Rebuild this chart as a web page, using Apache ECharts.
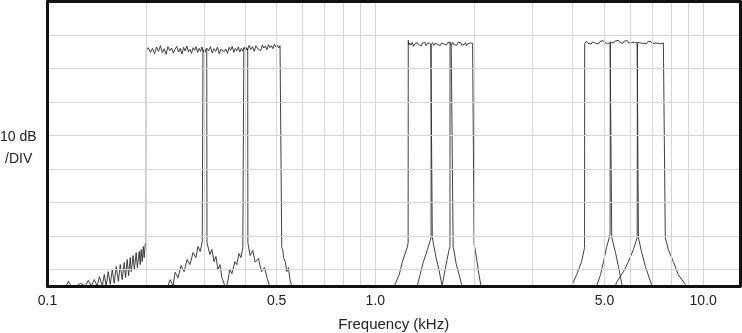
<!DOCTYPE html>
<html>
<head>
<meta charset="utf-8">
<script src="https://cdn.jsdelivr.net/npm/echarts@6/dist/echarts.min.js"></script>
<style>
html,body{margin:0;padding:0;background:#fff;}
#chart{width:742px;height:333px;}
</style>
</head>
<body>
<div id="chart"></div>
<script>
// Frequencies in kHz, levels in dB below the top of the screen (10 dB / division)
const xTickValues = [0.1, 0.5, 1, 5, 10];
const gridFreqs = [0.2, 0.3, 0.4, 0.5, 0.6, 0.7, 0.8, 0.9, 1, 2, 3, 4, 5, 6, 7, 8, 9, 10];
const xRange = [0.1, 12.95];
const yRange = [0, 85];
const yLabelText = ['10 dB', '/DIV'];
const xTitle = 'Frequency (kHz)';

// Band A: 0.2 - 0.3 kHz
const bandA = [
  [0.1095,85],[0.1140,85],[0.1158,83.6],[0.1180,85],[0.1225,85],[0.1260,84.2],[0.1305,85],[0.1332,83.3],
  [0.1360,85],[0.1389,83.1],[0.1418,85],[0.1440,82.2],[0.1470,85],[0.1490,81.6],[0.1510,85],[0.1532,80.7],
  [0.1554,84.5],[0.1576,80.1],[0.1598,84.2],[0.1620,79.2],[0.1645,83.6],[0.1667,78.6],[0.1690,83.1],
  [0.1714,78.0],[0.1730,82.5],[0.1750,77.1],[0.1768,81.9],[0.1788,76.5],[0.1800,80.7],[0.1825,75.9],
  [0.1840,80.1],[0.1864,75.0],[0.1880,79.5],[0.1904,74.7],[0.1918,78.6],[0.1930,74.1],[0.1945,77.7],
  [0.1960,73.2],[0.1972,76.5],[0.1986,72.6],[0.2000,72.0],
  [0.2002,14.6],[0.203,13.8],[0.206,15.2],[0.209,14.0],[0.212,15.6],[0.215,13.6],[0.218,14.9],[0.221,13.2],
  [0.224,15.3],[0.227,14.1],[0.230,15.8],[0.233,13.5],[0.236,14.7],[0.239,13.9],[0.242,15.4],[0.245,14.2],
  [0.248,13.4],[0.251,15.1],[0.254,14.0],[0.257,15.7],[0.260,13.7],[0.263,14.8],[0.266,13.3],[0.269,15.0],
  [0.272,14.3],[0.275,15.5],[0.278,13.8],[0.281,14.6],[0.284,13.5],[0.287,15.2],[0.290,14.0],[0.293,14.9],
  [0.296,13.6],[0.299,15.1],[0.302,14.2],[0.306,14.8],
  [0.3065,72.0],[0.3128,75.6],[0.3173,74.1],[0.3220,77.7],[0.3264,76.2],[0.3310,80.1],[0.3360,78.6],
  [0.3403,82.5],[0.3476,85]
];
// Band B: 0.3 - 0.4 kHz
const bandB = [
  [0.2330,85],[0.2366,83.1],[0.2416,85],[0.2450,80.9],[0.2502,82.5],[0.2555,78.9],[0.2610,80.7],
  [0.2665,77.1],[0.2720,78.6],[0.2779,75.0],[0.2837,76.5],[0.2877,73.2],[0.2924,74.7],[0.2965,71.7],
  [0.2979,71.4],
  [0.2980,14.4],[0.302,15.3],[0.306,13.9],[0.310,14.8],[0.314,13.5],[0.318,15.4],[0.322,14.1],[0.326,14.9],
  [0.330,13.6],[0.334,15.6],[0.338,14.3],[0.342,13.8],[0.346,15.0],[0.350,14.2],[0.354,15.5],[0.358,13.7],
  [0.362,14.6],[0.366,13.4],[0.370,15.2],[0.374,14.0],[0.378,14.7],[0.382,13.6],[0.386,15.1],[0.390,14.0],
  [0.394,14.8],[0.398,13.7],[0.402,14.5],[0.408,14.1],
  [0.4085,72.0],[0.4093,72.6],[0.4150,75.9],[0.4227,74.4],[0.4300,77.9],[0.4400,76.8],[0.4490,80.7],
  [0.4590,79.5],[0.4690,83.1],[0.4762,85]
];
// Band C: 0.4 - 0.52 kHz
const bandC = [
  [0.3524,85],[0.3600,80.1],[0.3651,81.3],[0.3730,77.7],[0.3780,78.6],[0.3836,75.3],[0.3890,76.5],
  [0.3943,73.5],[0.3968,73.0],
  [0.3970,14.2],[0.402,13.4],[0.407,14.6],[0.412,13.1],[0.417,14.3],[0.422,13.5],[0.427,14.9],[0.432,13.2],
  [0.437,14.0],[0.442,13.6],[0.447,14.7],[0.452,13.0],[0.457,13.9],[0.462,13.3],[0.467,14.4],[0.472,12.9],
  [0.477,13.8],[0.482,13.2],[0.487,14.1],[0.492,12.8],[0.497,13.6],[0.502,13.0],[0.507,13.9],[0.512,13.2],
  [0.518,13.6],
  [0.5182,73.5],[0.5216,74.1],[0.5250,76.5],[0.5310,77.7],[0.5370,80.7],[0.5430,79.5],[0.5490,83.1],[0.5554,85]
];
// Band D: 1.26 - 1.49 kHz
const bandD = [
  [1.142,85],[1.183,81.6],[1.210,77.6],[1.240,74.6],[1.254,73.1],[1.259,72.0],
  [1.260,11.6],[1.266,13.0],[1.272,12.4],[1.284,13.0],[1.296,12.2],[1.308,13.4],[1.320,12.6],[1.332,13.1],
  [1.344,12.3],[1.356,12.9],[1.368,12.5],[1.380,13.3],[1.392,12.4],[1.404,12.8],[1.416,12.2],[1.428,13.2],
  [1.440,12.6],[1.452,12.9],[1.464,12.4],[1.476,13.0],[1.491,12.7],
  [1.492,70.5],[1.505,72.6],[1.532,76.5],[1.565,80.4],[1.598,85]
];
// Band E: 1.48 - 1.73 kHz
const bandE = [
  [1.342,85],[1.370,81.6],[1.399,78.0],[1.439,74.4],[1.470,71.4],[1.479,70.5],
  [1.480,12.9],[1.494,12.3],[1.508,13.1],[1.522,12.5],[1.536,12.0],[1.550,12.8],[1.564,12.3],[1.578,13.2],
  [1.592,12.4],[1.606,12.0],[1.620,12.7],[1.634,12.2],[1.648,13.0],[1.662,12.3],[1.676,12.8],[1.690,12.1],
  [1.704,12.9],[1.726,12.5],
  [1.727,73.5],[1.739,74.6],[1.763,78.3],[1.800,81.6],[1.838,85]
];
// Band F: 1.69 - 2.0 kHz
const bandF = [
  [1.598,85],[1.632,80.1],[1.655,77.1],[1.679,74.1],[1.689,73.2],
  [1.690,12.4],[1.706,13.0],[1.722,12.2],[1.738,12.9],[1.754,12.4],[1.770,13.1],[1.786,12.3],[1.802,12.8],
  [1.818,12.2],[1.834,13.0],[1.850,12.5],[1.866,12.9],[1.882,12.3],[1.898,13.2],[1.914,12.6],[1.930,13.0],
  [1.946,12.4],[1.962,12.9],[1.980,12.5],[2.000,12.8],
  [2.001,72.6],[2.014,73.8],[2.042,77.7],[2.071,81.6],[2.100,85]
];
// Band G: 4.35 - 5.26 kHz
const bandG = [
  [3.970,85],[4.111,81.6],[4.258,77.7],[4.347,73.5],
  [4.350,12.6],[4.40,11.9],[4.45,12.5],[4.50,12.0],[4.55,12.7],[4.60,12.1],[4.65,11.8],[4.70,12.5],
  [4.75,12.0],[4.80,12.6],[4.85,11.9],[4.90,12.4],[4.95,11.7],[5.00,12.3],[5.05,11.9],[5.10,12.5],
  [5.15,12.0],[5.20,12.4],[5.26,12.0],
  [5.262,70.5],[5.401,75.0],[5.515,79.2],[5.633,83.9],[5.66,85]
];
// Band H: 5.21 - 6.34 kHz
const bandH = [
  [4.730,85],[4.864,81.6],[4.966,77.7],[5.072,73.5],[5.200,69.6],
  [5.21,12.1],[5.27,11.7],[5.33,12.4],[5.39,11.8],[5.45,12.3],[5.51,11.6],[5.57,12.2],[5.63,11.9],
  [5.69,12.5],[5.75,11.8],[5.81,12.2],[5.87,11.7],[5.93,12.4],[5.99,12.0],[6.05,12.3],[6.11,11.8],
  [6.17,12.2],[6.23,11.9],[6.29,12.4],[6.34,12.0],
  [6.346,70.5],[6.481,74.7],[6.665,79.2],[6.951,84.5],[7.00,85]
];
// Band I: 6.3 - 7.66 kHz
const bandI = [
  [5.40,85],[5.441,83.9],[5.713,80.7],[5.916,77.7],[6.127,74.1],[6.290,70.5],
  [6.30,12.2],[6.37,11.8],[6.44,12.4],[6.51,11.9],[6.58,12.5],[6.65,12.0],[6.72,12.6],[6.79,11.9],
  [6.86,12.3],[6.93,12.0],[7.00,12.6],[7.07,12.1],[7.14,12.4],[7.21,12.0],[7.28,12.5],[7.35,12.1],
  [7.42,12.6],[7.49,12.2],[7.56,12.4],[7.66,12.6],
  [7.664,70.5],[7.826,74.1],[8.104,77.7],[8.395,81.6],[8.815,84.5],[8.90,85]
];

const bands = [bandA, bandB, bandC, bandD, bandE, bandF, bandG, bandH, bandI];

const chart = echarts.init(document.getElementById('chart'), null, {renderer: 'canvas'});
const FONT = '"Liberation Sans", Arial, Helvetica, sans-serif';
function frame() { return {show: true, onZero: false, lineStyle: {color: '#111111', width: 3}}; }

const series = [{
  type: 'line',
  data: [[1, 85]],
  symbol: 'none',
  silent: true,
  z: 1,
  lineStyle: {width: 0, opacity: 0},
  markLine: {
    silent: true,
    symbol: ['none', 'none'],
    label: {show: false},
    animation: false,
    lineStyle: {color: '#d6d6d6', width: 1, type: 'solid'},
    data: gridFreqs.map(f => ({xAxis: f}))
  }
}, {
  // left edge of the screen frame, drawn along the axis minimum
  type: 'line',
  data: [[xRange[0], yRange[0]], [xRange[0], yRange[1]]],
  symbol: 'none',
  silent: true,
  clip: false,
  z: 6,
  lineStyle: {color: '#111111', width: 3}
}];
bands.forEach(b => {
  series.push({
    type: 'line',
    data: b,
    symbol: 'none',
    showSymbol: false,
    clip: true,
    z: 3,
    lineStyle: {color: '#2b2b2b', width: 0.9}
  });
});

chart.setOption({
  animation: false,
  backgroundColor: '#ffffff',
  grid: {
    left: 47.5, right: 2, top: 1.5, bottom: 47,
    containLabel: false,
    outerBoundsMode: 'none',
    show: false
  },
  xAxis: [{
    type: 'log',
    logBase: 10,
    min: xRange[0],
    max: xRange[1],
    position: 'bottom',
    name: xTitle,
    nameLocation: 'middle',
    nameGap: 31,
    nameTextStyle: {fontFamily: FONT, fontSize: 15, color: '#222'},
    axisLine: frame(),
    axisTick: {show: false},
    splitLine: {show: false},
    z: 5,
    axisLabel: {
      customValues: xTickValues,
      margin: 8,
      fontFamily: FONT, fontSize: 14, color: '#222',
      formatter: v => Number(v).toFixed(1)
    }
  }, {
    type: 'log',
    logBase: 10,
    min: xRange[0],
    max: xRange[1],
    position: 'top',
    axisLine: frame(),
    axisTick: {show: false},
    axisLabel: {show: false},
    splitLine: {show: false},
    z: 5
  }],
  yAxis: [{
    type: 'value',
    inverse: true,
    min: yRange[0],
    max: yRange[1],
    interval: 10,
    position: 'left',
    axisLine: frame(),
    axisTick: {show: false},
    axisLabel: {show: false},
    splitLine: {show: true, lineStyle: {color: '#d6d6d6', width: 1}},
    z: 5
  }, {
    type: 'value',
    inverse: true,
    min: yRange[0],
    max: yRange[1],
    interval: 10,
    position: 'right',
    axisLine: frame(),
    axisTick: {show: false},
    axisLabel: {show: false},
    splitLine: {show: false},
    z: 5
  }],
  graphic: [
    {type: 'text', left: 0, top: 130, z: 10, style: {text: yLabelText[0], font: '14px ' + FONT, fill: '#222'}},
    {type: 'text', left: 5, top: 152, z: 10, style: {text: yLabelText[1], font: '14px ' + FONT, fill: '#222'}}
  ],
  series: series
});
</script>
</body>
</html>
